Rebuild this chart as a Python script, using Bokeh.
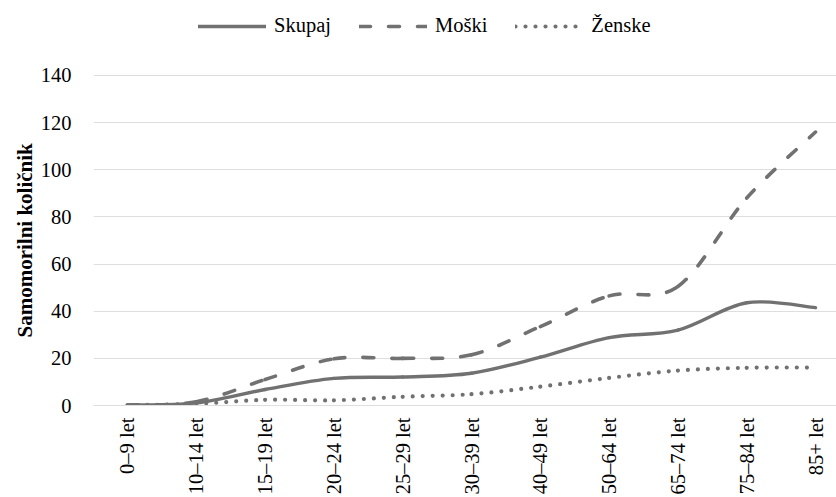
from bokeh.plotting import figure
from bokeh.models import Range1d, FixedTicker, Legend, LegendItem, Title
from bokeh.embed import file_html
from bokeh.resources import INLINE
import math

# ---- data ----
age_groups = ["0–9 let", "10–14 let", "15–19 let", "20–24 let", "25–29 let", "30–39 let",
              "40–49 let", "50–64 let", "65–74 let", "75–84 let", "85+ let"]
skupaj = [0.2, 1.1, 6.8, 11.5, 12.1, 13.7, 20.5, 28.8, 32.0, 43.6, 41.5]
moski = [0.2, 1.6, 11.0, 19.8, 20.0, 21.5, 33.5, 46.5, 50.5, 88.0, 116.0]
zenske = [0.1, 0.7, 2.4, 2.2, 3.7, 4.8, 8.0, 11.7, 14.8, 16.0, 16.1]
y_ticks = [0, 20, 40, 60, 80, 100, 120, 140]

FONT = "Liberation Serif"
COLOR = "#717171"

# The frame reaches above 140 to hold the legend (no gridline / axis line up there)
p = figure(width=836, height=497, output_backend="svg", toolbar_location=None,
           x_range=Range1d(-0.494, 10.305), y_range=Range1d(0, 170.12),
           min_border_left=93, min_border_right=0, min_border_top=4, min_border_bottom=92)
p.outline_line_color = None
p.background_fill_color = "white"
p.border_fill_color = "white"

xs = list(range(len(age_groups)))


def smooth_segments(vals, t=1.0 / 6.0):
    n = len(vals)
    x0, y0, x1, y1, cx0, cy0, cx1, cy1 = [], [], [], [], [], [], [], []
    for i in range(n - 1):
        pxm = xs[i - 1] if i > 0 else xs[i]
        pym = vals[i - 1] if i > 0 else vals[i]
        pxp = xs[i + 2] if i + 2 < n else xs[i + 1]
        pyp = vals[i + 2] if i + 2 < n else vals[i + 1]
        x0.append(xs[i]); y0.append(vals[i])
        x1.append(xs[i + 1]); y1.append(vals[i + 1])
        cx0.append(xs[i] + (xs[i + 1] - pxm) * t)
        cy0.append(vals[i] + (vals[i + 1] - pym) * t)
        cx1.append(xs[i + 1] - (pxp - xs[i]) * t)
        cy1.append(vals[i + 1] - (pyp - vals[i]) * t)
    return dict(x0=x0, y0=y0, x1=x1, y1=y1, cx0=cx0, cy0=cy0, cx1=cx1, cy1=cy1)


series = [
    ("Skupaj", skupaj, "solid", 3.4),
    ("Moški", moski, "11 18", 3.6),
    ("Ženske", zenske, "0 10", 4.2),
]

items = []
for name, vals, dash, lw in series:
    seg = smooth_segments(vals)
    r = p.bezier(line_color=COLOR, line_width=lw, line_dash=dash, line_cap="round", **seg)
    items.append(LegendItem(label=name, renderers=[r]))

legend = Legend(items=items, orientation="horizontal", location=(105, 368),
                glyph_width=68, glyph_height=20, label_standoff=8, spacing=28,
                padding=0, margin=0, border_line_color=None, background_fill_alpha=0,
                label_text_font=FONT, label_text_font_size="20.5px", label_text_color="black")
p.add_layout(legend, "center")

# grid
p.xgrid.grid_line_color = None
p.ygrid.grid_line_color = "#dedede"
p.ygrid.grid_line_width = 1.2
p.yaxis.ticker = FixedTicker(ticks=y_ticks)

# y axis
p.yaxis.axis_line_color = None
p.yaxis.major_tick_line_color = None
p.yaxis.minor_tick_line_color = None
p.yaxis.major_tick_out = 0
p.yaxis.major_label_standoff = 22
p.yaxis.major_label_text_font = FONT
p.yaxis.major_label_text_font_size = "20.5px"
p.yaxis.major_label_text_color = "black"

# y axis title, placed along the 0-140 part of the frame
ytitle = Title(text="Samomorilni količnik", align="left", offset=68,
               text_font=FONT, text_font_size="21px", text_font_style="bold",
               text_color="black", standoff=2)
p.add_layout(ytitle, "left")

# x axis
p.xaxis.ticker = FixedTicker(ticks=xs)
p.xaxis.major_label_overrides = {i: lab for i, lab in enumerate(age_groups)}
p.xaxis.major_label_orientation = math.pi / 2
p.xaxis.axis_line_color = "#dedede"
p.xaxis.axis_line_width = 1.2
p.xaxis.major_tick_line_color = None
p.xaxis.minor_tick_line_color = None
p.xaxis.major_tick_out = 0
p.xaxis.major_label_standoff = 12
p.xaxis.major_label_text_font = FONT
p.xaxis.major_label_text_font_size = "20.5px"
p.xaxis.major_label_text_color = "black"

open("out.html", "w").write(file_html(p, INLINE))
